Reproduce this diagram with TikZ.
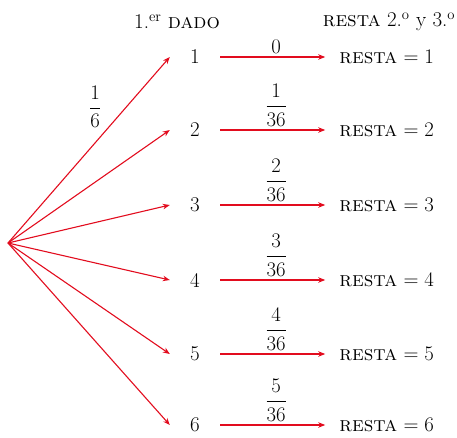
\documentclass[tikz,border=0pt]{standalone}
\usepackage{amsmath}
\usetikzlibrary{positioning,arrows.meta}
\definecolor{rama}{RGB}{226,12,30}
\tikzset{num/.style={minimum width=50pt,inner sep=2pt,font=\fontsize{21}{25}\selectfont},res/.style={inner sep=7pt,inner ysep=2pt,font=\fontsize{21}{25}\selectfont},
  flecha/.style={draw=rama,line width=1.1pt,-{Stealth[length=7pt,width=5.5pt]}},prob/.style={font=\fontsize{21}{25}\selectfont}}

\begin{document}
\begin{tikzpicture}[x=1pt,y=-1pt]
\useasboundingbox (0,0) rectangle (457,437);
\coordinate (o) at (8,243);
\node[prob] (h1) at (177,22) {1.\textsuperscript{er} \textsc{dado}};
\node[prob] (h2) at (389,22) {\textsc{resta} 2.\textsuperscript{o} y 3.\textsuperscript{o}};
\node[num] (n1) at (195,57) {1};\node[num] (n2) at (195,130) {2};\node[num] (n3) at (195,205) {3};
\node[num] (n4) at (195,280) {4};\node[num] (n5) at (195,354) {5};\node[num] (n6) at (195,425) {6};
\node[res,right=112pt of n1] (r1) {\textsc{resta} $=1$};\node[res,right=112pt of n2] (r2) {\textsc{resta} $=2$};
\node[res,right=112pt of n3] (r3) {\textsc{resta} $=3$};\node[res,right=112pt of n4] (r4) {\textsc{resta} $=4$};
\node[res,right=112pt of n5] (r5) {\textsc{resta} $=5$};\node[res,right=112pt of n6] (r6) {\textsc{resta} $=6$};
% primer dado
\draw[flecha] (o) -- node[prob,pos=0.6,above left] {$\dfrac{1}{6}$} (n1.west);
\draw[flecha] (o) -- (n2.west);\draw[flecha] (o) -- (n3.west);\draw[flecha] (o) -- (n4.west);
\draw[flecha] (o) -- (n5.west);\draw[flecha] (o) -- (n6.west);
% resta
\draw[flecha,shorten >=7pt] (n1) -- node[prob,above] {$0$} (r1);
\draw[flecha,shorten >=7pt] (n2) -- node[prob,above] {$\dfrac{1}{36}$} (r2);
\draw[flecha,shorten >=7pt] (n3) -- node[prob,above] {$\dfrac{2}{36}$} (r3);
\draw[flecha,shorten >=7pt] (n4) -- node[prob,above] {$\dfrac{3}{36}$} (r4);
\draw[flecha,shorten >=7pt] (n5) -- node[prob,above] {$\dfrac{4}{36}$} (r5);
\draw[flecha,shorten >=7pt] (n6) -- node[prob,above] {$\dfrac{5}{36}$} (r6);
\end{tikzpicture}
\end{document}
